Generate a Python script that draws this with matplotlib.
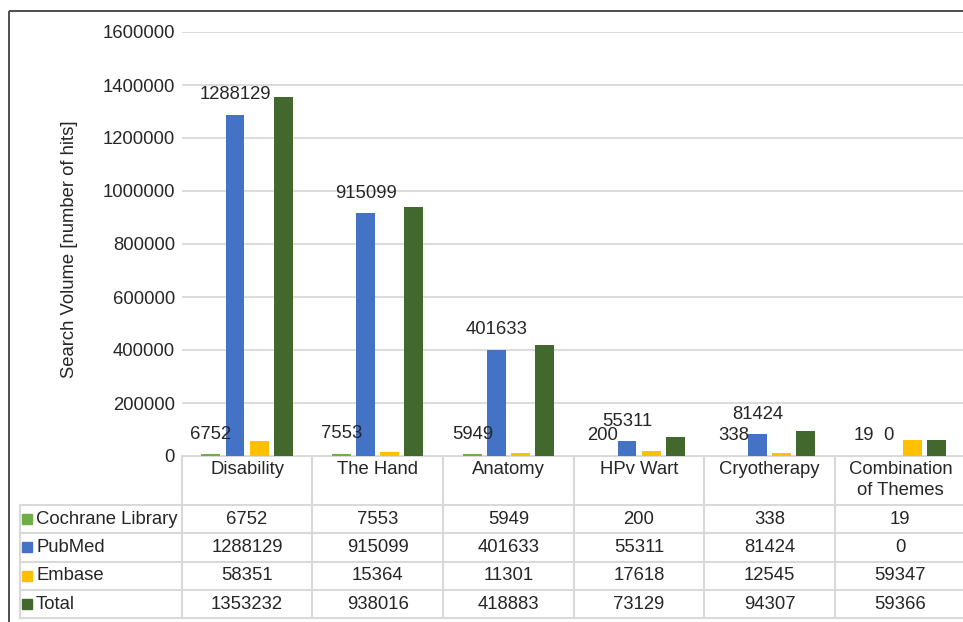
import matplotlib
matplotlib.use("Agg")
import matplotlib.pyplot as plt
import matplotlib.transforms as mtransforms
from matplotlib.lines import Line2D
from matplotlib.patches import Rectangle
import numpy as np

categories = ["Disability", "The Hand", "Anatomy", "HPv Wart", "Cryotherapy", "Combination\nof Themes"]
series_names = ["Cochrane Library", "PubMed", "Embase", "Total"]
cochrane = [6752, 7553, 5949, 200, 338, 19]
pubmed = [1288129, 915099, 401633, 55311, 81424, 0]
embase = [58351, 15364, 11301, 17618, 12545, 59347]
total = [1353232, 938016, 418883, 73129, 94307, 59366]
yticks = [0, 200000, 400000, 600000, 800000, 1000000, 1200000, 1400000, 1600000]
ylabel = "Search Volume [number of hits]"
labelled = [True, True, False, False]

colors = ["#70AD47", "#4472C4", "#FFC000", "#43682E"]
series = [cochrane, pubmed, embase, total]

W, H = 963, 622
TXT = "#262626"
GRID = "#D9D9D9"
FS = 13.3

plt.rcParams['font.family'] = ['Liberation Sans', 'DejaVu Sans']
fig = plt.figure(figsize=(W / 100, H / 100), dpi=100)

# overlay in pixel coordinates
ov = fig.add_axes([0, 0, 1, 1])
ov.set_xlim(0, W)
ov.set_ylim(H, 0)
ov.axis("off")

left, right = 181.7, 965.7
top, base = 32.0, 456.0
ax = fig.add_axes([left / W, (H - base) / H, (right - left) / W, (base - top) / H])
ax.set_xlim(-0.5, len(categories) - 0.5)
ax.set_ylim(0, 1600000)
ax.set_yticks(yticks)
ax.set_yticklabels([str(t) for t in yticks], fontsize=FS, color=TXT)
ax.tick_params(axis="y", length=0, pad=4.8)
ax.set_xticks([])
for s in ax.spines.values():
    s.set_visible(False)
ax.grid(axis="y", color=GRID, linewidth=1.3)
ax.set_axisbelow(True)

x = np.arange(len(categories))
step = 0.184
bw = 0.145
for i, (vals, c) in enumerate(zip(series, colors)):
    pos = x + (i - 1.5) * step
    ax.bar(pos, vals, width=bw, color=c, zorder=3)
    if labelled[i]:
        for px, v in zip(pos, vals):
            ax.annotate(str(v), (px, v), xytext=(0, 14.4), textcoords="offset points",
                        ha="center", va="center", fontsize=FS, color=TXT, zorder=4)

fig.text(70 / W, 1 - 249 / H, ylabel, rotation=90, ha="center", va="center",
         fontsize=FS, color=TXT)

# data table
bt = mtransforms.blended_transform_factory(ax.transData, ov.transData)
row_top = 505.0
row_h = 28.3
nrows = len(series_names)
table_bottom = row_top + nrows * row_h
leg_left = 20.0

# horizontal lines
ov.add_line(Line2D([left, W + 5], [base, base], color=GRID, lw=1.5))
for r in range(nrows + 1):
    yy = row_top + r * row_h
    ov.add_line(Line2D([leg_left, W + 5], [yy, yy], color=GRID, lw=1.5))
# vertical lines
ov.add_line(Line2D([leg_left, leg_left], [row_top, table_bottom], color=GRID, lw=1.5))
for k in range(len(categories) + 1):
    ov.add_line(Line2D([k - 0.5, k - 0.5], [base, table_bottom], color=GRID, lw=1.5,
                       transform=bt))

# category header
for k, cat in enumerate(categories):
    ov.text(k, 461.5, cat, transform=bt, ha="center", va="top", fontsize=FS,
            color=TXT, linespacing=1.3, multialignment="center")

# rows
for r, (name, vals, c) in enumerate(zip(series_names, series, colors)):
    yc = row_top + (r + 0.5) * row_h
    ov.add_patch(Rectangle((21.5, yc - 5), 10, 10, color=c))
    ov.text(36, yc, name, ha="left", va="center", fontsize=FS, color=TXT)
    for k, v in enumerate(vals):
        ov.text(k, yc, str(v), transform=bt, ha="center", va="center", fontsize=FS, color=TXT)

# outer border
ov.add_patch(Rectangle((9, 11), W + 20, H + 20, fill=False, edgecolor="#404040", lw=1.3))

fig.savefig("out.png", dpi=100)
